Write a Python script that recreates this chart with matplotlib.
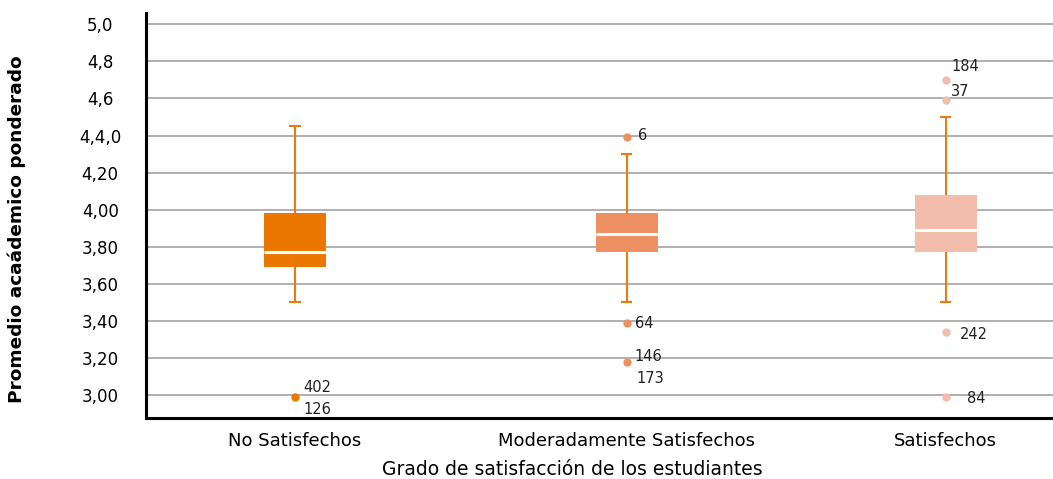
import matplotlib.pyplot as plt

# Data
groups = ['No Satisfechos', 'Moderadamente Satisfechos', 'Satisfechos']
q1 = [3.69, 3.77, 3.77]
med = [3.77, 3.87, 3.89]
q3 = [3.98, 3.98, 4.08]
whislo = [3.50, 3.50, 3.50]
whishi = [4.45, 4.30, 4.50]
fliers = [[2.99], [4.39, 3.39, 3.18], [4.70, 4.59, 3.34, 2.99]]

# outlier labels: (group, value, label)
flier_labels = [(0, 2.99, '402'), (0, 2.99, '126'),
                (1, 4.39, '6'), (1, 3.39, '64'), (1, 3.18, '146'), (1, 3.18, '173'),
                (2, 4.70, '184'), (2, 4.59, '37'), (2, 3.34, '242'), (2, 2.99, '84')]
label_offsets = [(8, 9), (8, -13), (11, 2), (8, -1), (8, 5), (10, -17),
                 (6, 13), (5, 9), (14, -2), (21, -2)]

yticks = [3.0, 3.2, 3.4, 3.6, 3.8, 4.0, 4.2, 4.4, 4.6, 4.8, 5.0]
ytick_labels = ['3,00', '3,20', '3,40', '3,60', '3,80', '4,00', '4,20', '4,4,0', '4,6', '4,8', '5,0']

box_colors = ['#EC7700', '#EE9061', '#F2BDAA']
whisker_color = '#EC7A0E'

plt.rcParams['font.family'] = ['DejaVu Sans']

fig = plt.figure(figsize=(10.53, 4.79), dpi=100)
ax = fig.add_axes([0.1387, 0.1273, 0.8613, 0.8456])

stats = []
for i in range(3):
    stats.append({'q1': q1[i], 'med': med[i], 'q3': q3[i],
                  'whislo': whislo[i], 'whishi': whishi[i], 'fliers': fliers[i]})

pos = [0, 1.02, 2]
bp = ax.bxp(stats, positions=pos, widths=0.19, patch_artist=True,
            capwidths=0.028, zorder=3,
            boxprops=dict(linewidth=0),
            whiskerprops=dict(color=whisker_color, linewidth=1.5),
            capprops=dict(color=whisker_color, linewidth=1.5),
            medianprops=dict(color='white', linewidth=2.2))

for i, b in enumerate(bp['boxes']):
    b.set_facecolor(box_colors[i])
    b.set_edgecolor(box_colors[i])
    b.set_zorder(4)
for m in bp['medians']:
    m.set_zorder(5)
for i, f in enumerate(bp['fliers']):
    f.set_marker('o')
    f.set_markerfacecolor(box_colors[i])
    f.set_markeredgecolor(box_colors[i])
    f.set_markersize(5)

for (g, v, lab), (dx, dy) in zip(flier_labels, label_offsets):
    ax.annotate(lab, (pos[g], v), xytext=(dx, dy), textcoords='offset pixels',
                ha='left', va='center', fontsize=10.5, color='#222222')

ax.set_xlim(-0.458, 2.33)
ax.set_ylim(2.876, 5.061)
ax.set_yticks(yticks)
ax.set_yticklabels(ytick_labels, fontsize=12, ha='center')
ax.set_xticks(pos)
ax.set_xticklabels(groups, fontsize=13)
ax.tick_params(length=0)
ax.tick_params(axis='y', pad=33)
ax.tick_params(axis='x', pad=10)

ax.grid(axis='y', color='#AAAAAA', linewidth=1.3, zorder=0)
ax.set_axisbelow(True)
for s in ['top', 'right']:
    ax.spines[s].set_visible(False)
for s in ['left', 'bottom']:
    ax.spines[s].set_linewidth(2.2)
    ax.spines[s].set_color('black')

ax.set_ylabel('Promedio acaádemico ponderado', fontsize=13.3, fontweight='bold',
              ha='center', va='center')
ax.yaxis.set_label_coords(-0.1422, 0.467)
ax.set_xlabel('Grado de satisfacción de los estudiantes', fontsize=13.5,
              ha='center', va='center')
ax.xaxis.set_label_coords(0.470, -0.128)

fig.savefig('out.png', dpi=100)
